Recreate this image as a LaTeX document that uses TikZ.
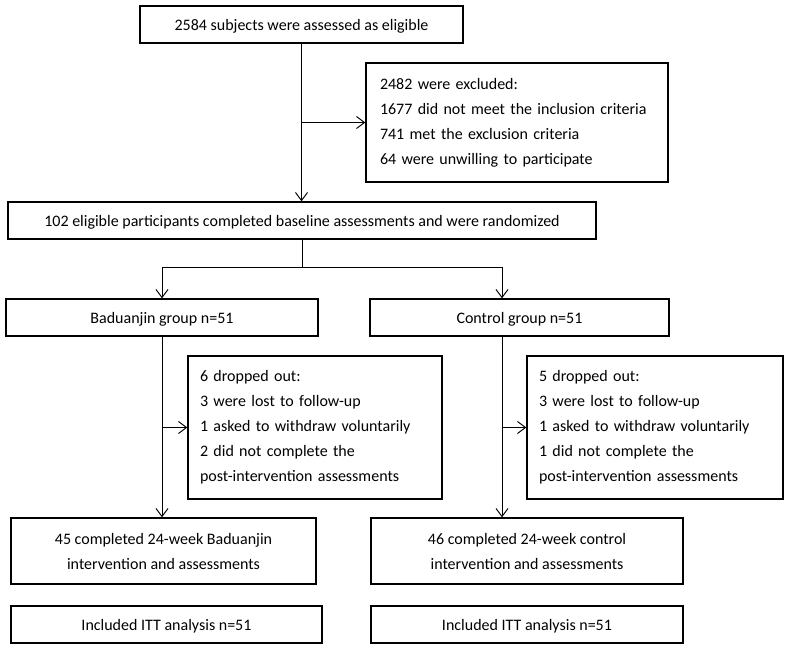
\documentclass[tikz,border=0pt]{standalone}
\usepackage{fontspec}
\setmainfont{Carlito}
\usetikzlibrary{arrows.meta}
\tikzset{
  flowbox/.style={draw=black,line width=1.1pt,inner sep=0pt,
    font=\fontsize{12}{18.75}\selectfont,align=center},
  plainbox/.style={flowbox,text depth=0pt},
  listbox/.style={flowbox,align=left,inner xsep=#1},
  flowline/.style={draw=black,line width=0.7pt},
  flowarrow/.style={flowline,-{Straight Barb[length=6pt,width=9pt]}},
}
% name, x1, y1, x2, y2, text
\newcommand{\mkbox}[6]{%
  \node[plainbox,minimum width={(#4-#2)*0.75pt},minimum height={(#5-#3)*0.75pt}]
    (#1) at ({(#2+#4)/2},{(#3+#5)/2}) {#6};}
% name, x1, y1, x2, y2, text width, padding, text
\newcommand{\mklist}[8]{%
  \node[listbox=#7,text width=#6,minimum height={(#5-#3)*0.75pt}]
    (#1) at ({(#2+#4)/2},{(#3+#5)/2}) {#8};}

\begin{document}
\begin{tikzpicture}[x=0.75pt,y=-0.75pt]
  \useasboundingbox (0,0) rectangle (789,650);
  \mkbox{top}{140}{6}{463}{43}{2584 subjects were assessed as eligible}
  \mklist{excl}{366}{63}{668}{182}{205.5pt}{10.5pt}{2482 were excluded:\\
    1677 did not meet the inclusion criteria\\
    741 met the exclusion criteria\\
    64 were unwilling to participate}
  \mkbox{base}{8}{202}{596}{239}{102 eligible participants completed baseline assessments and were randomized}
  \mkbox{grpA}{6}{299}{318}{336}{Baduanjin group n=51}
  \mkbox{grpB}{370}{299}{669}{336}{Control group n=51}
  \mklist{dropA}{188}{356}{442}{499}{172.5pt}{9pt}{6 dropped out:\\
    3 were lost to follow-up\\
    1 asked to withdraw voluntarily\\
    2 did not complete the\\
    post-intervention assessments}
  \mklist{dropB}{527}{356}{783}{499}{174pt}{9pt}{5 dropped out:\\
    3 were lost to follow-up\\
    1 asked to withdraw voluntarily\\
    1 did not complete the\\
    post-intervention assessments}
  \mkbox{doneA}{11}{518}{316}{584}{45 completed 24-week Baduanjin\\intervention and assessments}
  \mkbox{doneB}{371}{518}{683}{584}{46 completed 24-week control\\intervention and assessments}
  \mkbox{ittA}{11}{606}{322}{643}{Included ITT analysis n=51}
  \mkbox{ittB}{371}{606}{683}{643}{Included ITT analysis n=51}

  \coordinate (forkA) at (162,267);
  \coordinate (forkB) at (502,267);

  \draw[flowarrow] (top.south) -- (top.south |- base.north);
  \draw[flowarrow] (top.south |- excl.west) -- (excl.west);
  \draw[flowline] (base.south) -- (base.south |- forkA);
  \draw[flowline] (forkA) -- (forkB);
  \draw[flowarrow] (forkA) -- (forkA |- grpA.north);
  \draw[flowarrow] (forkB) -- (forkB |- grpB.north);
  \draw[flowarrow] (grpA.south) -- (grpA.south |- doneA.north);
  \draw[flowarrow] (forkB |- grpB.south) -- (forkB |- doneB.north);
  \draw[flowarrow] (grpA.south |- dropA.west) -- (dropA.west);
  \draw[flowarrow] (forkB |- dropB.west) -- (dropB.west);
\end{tikzpicture}
\end{document}
